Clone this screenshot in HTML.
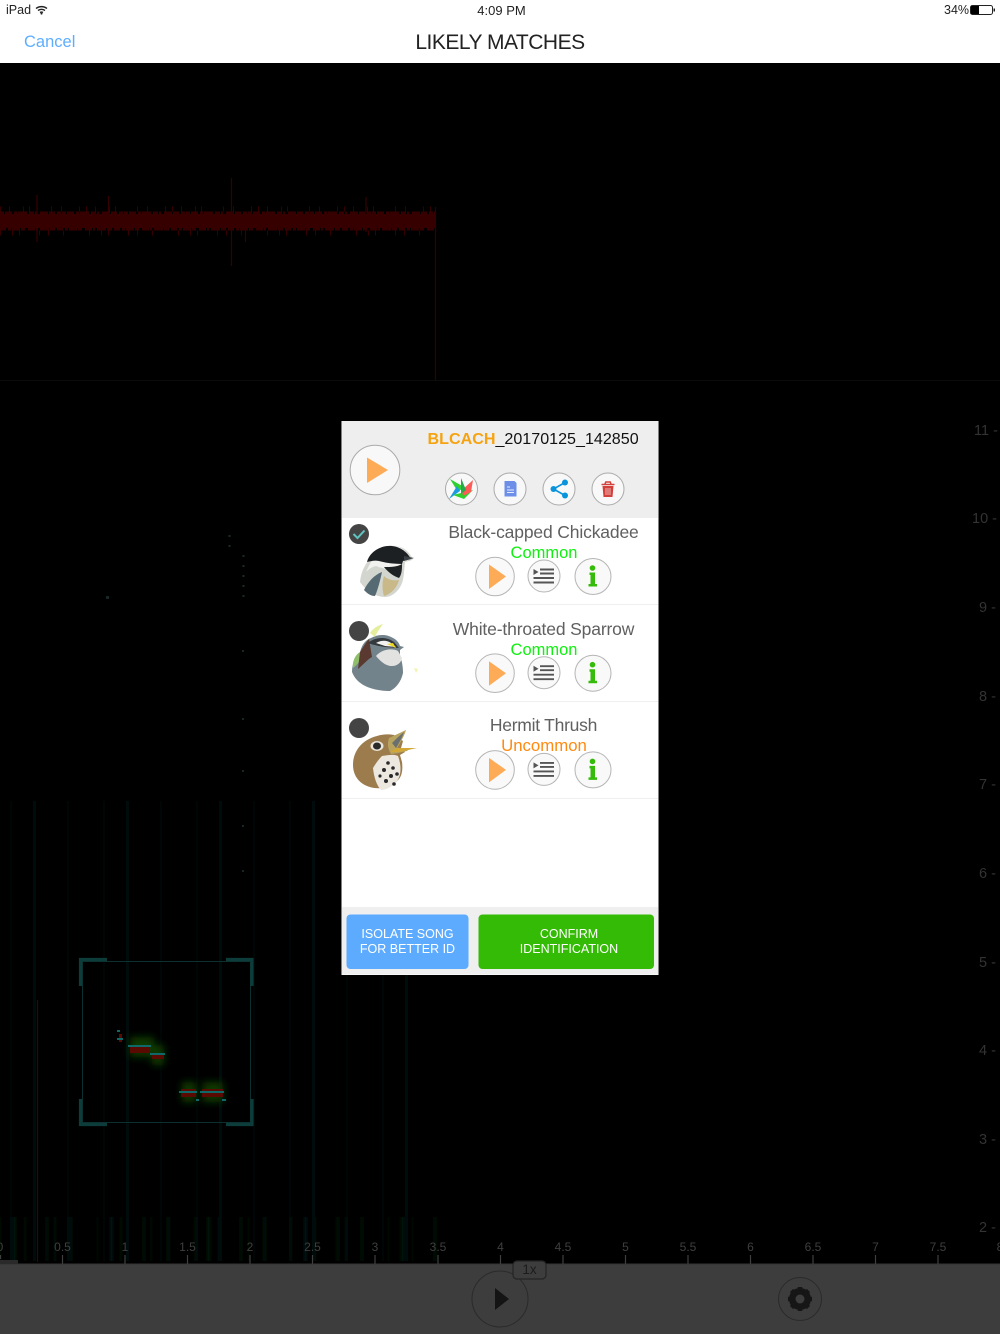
<!DOCTYPE html>
<html>
<head>
<meta charset="utf-8">
<style>
html,body{margin:0;padding:0;background:#000}
body{position:relative;width:1000px;height:1334px;overflow:hidden;font-family:"Liberation Sans",sans-serif}
.t{position:absolute;white-space:nowrap;line-height:1}
.c{transform:translateX(-50%)}
svg{position:absolute;left:0;top:0}
</style>
</head>
<body>
<div style="position:absolute;left:0;top:0;width:1000px;height:63px;background:#fff"></div>
<div class="t" style="left:6px;top:4px;font-size:12.5px;color:#222">iPad</div>
<div class="t c" style="left:501.5px;top:4px;font-size:13px;color:#222">4:09 PM</div>
<div class="t" style="left:944px;top:4px;font-size:12.5px;color:#222">34%</div>
<div class="t" style="left:24px;top:34px;font-size:16.5px;color:#5eaeff">Cancel</div>
<div class="t c" style="left:500px;top:32px;font-size:21px;letter-spacing:-.5px;color:#222">LIKELY MATCHES</div>

<svg width="1000" height="1334" viewBox="0 0 1000 1334">
<defs>
<filter id="b1" x="-5%" y="-5%" width="110%" height="110%"><feGaussianBlur stdDeviation="1.200 0"/></filter>
<filter id="b4"><feGaussianBlur stdDeviation="4"/></filter>
<g id="list"><path d="M-10.500 -7l5 3-5 3z" fill="#555"/><path d="M-4 -6.500h14M-4 -2.500h14M-10.500 2h20.500M-10.500 6.500h20.500" stroke="#555" stroke-width="1.900" fill="none"/></g>
</defs>

<!-- status icons -->
<path d="M36 8.500a9 9 0 0 1 11 0M38 10.500a6 6 0 0 1 7 0M40 12.500a3 3 0 0 1 3 0" stroke="#222" stroke-width="1.400" fill="none"/>
<circle cx="41.500" cy="13.600" r="1" fill="#222"/>
<rect x="970.500" y="5.500" width="22" height="9" rx="2" fill="#fff" stroke="#222"/>
<rect x="971" y="6" width="8" height="8" fill="#000"/>
<rect x="993.500" y="8.500" width="1.500" height="3" fill="#222"/>

<!-- waveform -->
<g fill="none" stroke="#360000">
<path d="M0 221H435" stroke-width="14"/>
<path d="M0 213H435" stroke-width="3" stroke-dasharray="4 1 7 2 3 1 9 2 5 1 2 3 8 1 6 2 4 1"/>
<path d="M0 229H435" stroke-width="3" stroke-dasharray="6 2 3 1 8 1 4 3 7 1 2 2 9 1 5 2"/>
<path d="M0 209H435" stroke-width="5" stroke-dasharray="1 8 1 13 1 5 1 21 1 9 1 17 1 6"/>
<path d="M0 233H435" stroke-width="5" stroke-dasharray="1 11 1 6 1 19 1 8 1 14 1 25"/>
<path d="M37 195V242M108.500 196V231M231.500 178V266M245.500 225V242M366 197V232M435.500 207V380" stroke-width="1.200"/>
</g>
<path d="M0 380.500H1000" stroke="#0b0b0b"/>

<!-- spectrogram streaks -->
<g fill="none" filter="url(#b1)">
<path d="M0 822H440" stroke="#000b0b" stroke-width="884" stroke-dasharray="1 9 2 14 1 6 3 19 1 11 2 7 1 16"/>
<path d="M0 1240H440" stroke="#001408" stroke-width="46" stroke-dasharray="1 12 3 8 1 21 2 6 1 15 2 25"/>
</g>
<path d="M37.500 1000V1262" stroke="#0d1a0a" stroke-width="1.200"/>
<path d="M243.500 555V600M229.500 535V555" stroke="#1b2a2a" stroke-width="2" stroke-dasharray="2 8"/>
<g fill="#182626"><rect x="106" y="596" width="3" height="3"/><rect x="242" y="650" width="2" height="2"/><rect x="242" y="718" width="2" height="2"/><rect x="242" y="770" width="2" height="2"/><rect x="242" y="825" width="2" height="2"/><rect x="242" y="870" width="2" height="2"/></g>

<!-- selection box -->
<rect x="82.500" y="961.500" width="168" height="161" fill="none" stroke="#0c3030" stroke-width="1"/>
<path d="M107 959.500H80.500V986M226 959.500H252V986M80.500 1099V1124.500H107M252 1099V1124.500H226" fill="none" stroke="#0d3d3b" stroke-width="3.200"/>
<g filter="url(#b4)" fill="#0c3a06">
<rect x="130" y="1037" width="24" height="20"/><rect x="152" y="1045" width="12" height="20"/>
<rect x="182" y="1082" width="14" height="20"/><rect x="203" y="1082" width="20" height="20"/>
</g>
<g fill="#5a0a00">
<rect x="130" y="1046" width="20" height="7"/><rect x="152" y="1054" width="12" height="5"/>
<rect x="181" y="1089" width="15" height="8"/><rect x="202" y="1089" width="21" height="8"/>
<rect x="119" y="1034" width="3" height="8"/>
</g>
<g fill="#0d6a68">
<rect x="128" y="1045" width="23" height="2"/><rect x="150" y="1053" width="15" height="2"/>
<rect x="179" y="1091" width="18" height="2"/><rect x="200" y="1091" width="24" height="2"/>
<rect x="117" y="1030" width="3" height="2"/><rect x="117" y="1038" width="6" height="2"/>
<rect x="196" y="1099" width="3" height="2"/><rect x="222" y="1099" width="4" height="2"/>
</g>

<!-- bottom bar -->
<rect x="0" y="1264" width="1000" height="70" fill="#3d3d3d"/>
<rect x="0" y="1263.500" width="1000" height="1" fill="#333"/>
<rect x="0" y="1260" width="18" height="4" fill="#2a2a2a"/>
<path d="M62.500 1255v9M125 1255v9M187.500 1255v9M250 1255v9M312.500 1255v9M375 1255v9M438 1255v9M500.500 1255v9M563 1255v9M625.500 1255v9M688 1255v9M750.500 1255v9M813 1255v9M875.500 1255v9M938 1255v9M0.500 1255v4" stroke="#3f3f3f" stroke-width="1.200"/>
<circle cx="500" cy="1299" r="28" fill="#3d3d3d" stroke="#2a2a2a" stroke-width="1"/>
<path d="M495 1288l14 11-14 11z" fill="#141414"/>
<rect x="513" y="1261" width="33" height="18" rx="4" fill="#3d3d3d" stroke="#242424" stroke-width="1.200"/>
<circle cx="800" cy="1299" r="21.500" fill="#3d3d3d" stroke="#2a2a2a"/>
<circle cx="800" cy="1299" r="8" fill="none" stroke="#161616" stroke-width="6"/>
<path d="M800 1287v24M788 1299h24M791.500 1290.500l17 17M808.500 1290.500l-17 17" stroke="#161616" stroke-width="4.500"/>
<circle cx="800" cy="1299" r="4.500" fill="#3d3d3d"/>

<!-- panel -->
<rect x="341.500" y="421" width="317" height="554" fill="#fff"/>
<rect x="342" y="421" width="316" height="97" fill="#efeeef"/>
<rect x="342" y="907" width="316" height="67.500" fill="#efefef"/>
<path d="M342 604.500H658M342 701.500H658M342 798.500H658" stroke="#efefef"/>
<rect x="346.500" y="914.500" width="122" height="54.500" rx="4" fill="#5dabff"/>
<rect x="478.500" y="914.500" width="175.500" height="54.500" rx="4" fill="#33bb05"/>

<!-- panel header icons -->
<circle cx="375" cy="470" r="24.800" fill="#f8f8f8" stroke="#aaa"/>
<path d="M367 457.500l21 12.500-21 13z" fill="#fdab57"/>
<g fill="#f8f8f8" stroke="#aaa"><circle cx="461.500" cy="489" r="16"/><circle cx="510" cy="489" r="16"/><circle cx="559" cy="489" r="16"/><circle cx="608" cy="489" r="16"/></g>
<path d="M450 479l14 8-6 5z" fill="#2fd02f"/><path d="M449 499l8-13 3 5z" fill="#1a9be0"/><path d="M453 495l20-5-9 9z" fill="#2fd02f"/>
<path d="M462 490l11-10-2 12-8 4z" fill="#ff5a55"/><path d="M461 478l5 12-5 4z" fill="#27a84a"/>
<path d="M504.500 481h10l2 2v13.500h-12z" fill="#6d8fe8"/>
<path d="M507 487h3M507 490h7M507 492.500h7" stroke="#e7ecff" stroke-width="1"/>
<path d="M565 482.500l-11.500 6.500 11.500 6.500" fill="none" stroke="#0a94dc" stroke-width="1.600"/>
<g fill="#0a94dc"><circle cx="565" cy="482.500" r="3"/><circle cx="553.500" cy="489" r="3"/><circle cx="565" cy="495.500" r="3"/></g>
<path d="M601.500 484.500h13M605 484l.8-2h4.400l.8 2" fill="none" stroke="#d2403c" stroke-width="1.500"/>
<path d="M602.500 486h11l-1 11h-9z" fill="#d2403c"/>
<path d="M606 488v7M608 488v7M610 488v7" stroke="#f4d0ce" stroke-width=".8"/>

<!-- row icons -->
<g id="r1">
<circle cx="495" cy="576.500" r="19.300" fill="#f9f9f9" stroke="#b5b5b5"/>
<path d="M489 564.500l17 12-17 12.500z" fill="#fdab57"/>
<circle cx="544" cy="576" r="16" fill="#f9f9f9" stroke="#b5b5b5"/>
<use href="#list" x="544" y="576"/>
<circle cx="593" cy="576.500" r="18" fill="#f9f9f9" stroke="#b5b5b5"/>
<circle cx="592.500" cy="568" r="2.800" fill="#35bb0a"/>
<path d="M589.500 572.500h5.500v11.500h2v2.500h-8.500V584h2v-9h-1z" fill="#35bb0a"/>
</g>
<use href="#r1" y="96.700"/>
<use href="#r1" y="193.400"/>

<!-- check circles -->
<circle cx="359" cy="534" r="10" fill="#444"/>
<path d="M353.500 534l4 4 7-7.500" fill="none" stroke="#5fc4c0" stroke-width="2"/>
<circle cx="359" cy="631" r="10" fill="#444"/>
<circle cx="359" cy="728" r="10" fill="#444"/>

<!-- chickadee -->
<path d="M360 582c1-10 5-18 10-23 5-9 14-14 26-13 7 1 12 5 15 10l2 3c-2 2-5 2-8 3-1 8-1 16-3 21-3 8-10 14-17 14-9 0-19-6-25-15z" fill="#d3d5cf"/>
<path d="M366 572c6-14 12-20 18-24 7-3 15-3 20 2l7 9-9 3c-1 6-1 9-2 13-5-6-14-5-24-9-4 1-7 3-10 6z" fill="#f1f1ef"/>
<path d="M367 562c2-9 12-17 25-16 9 1 15 6 19 13l-8 2-1 3c-8 0-16-1-23-3-4-1-8 0-12 1z" fill="#1d2022"/>
<path d="M384 567c7 0 13 0 18-3 0 5 0 10-3 14-6-2-11-6-15-11z" fill="#1f2224"/>
<path d="M404 556l10 2-10 3z" fill="#3a3f44"/>
<path d="M364 590c4-8 10-15 18-18-2 9-4 17-7 24-5 0-8-3-11-6z" fill="#556a72"/>
<path d="M384 576c4 4 10 5 15 4-2 8-8 14-15 16-2-6-2-14 0-20z" fill="#c9b888"/>
<!-- sparrow -->
<path d="M352 672c0-8 3-15 8-19 1-7 5-13 11-15 7-4 16-4 22 0 4 2 6 5 7 8l4 1-4 3 0 6c2 5 3 11 3 17-2 9-7 15-13 18-12 0-32-3-38-19z" fill="#73838c"/>
<path d="M353 668c-1-6 2-13 7-16l2 6c-3 4-5 7-9 10z" fill="#8fbf6a"/>
<path d="M360 652c4-6 6-10 9-13l3 18c-4 2-8 7-14 12z" fill="#5a3a30"/>
<path d="M376 656c6-7 16-8 22-5l4 7c-1 5-5 8-10 8-6 0-11-4-16-10z" fill="#e2e3e0"/>
<path d="M368 643c7-6 18-7 26-1l5 6-14-1c-6-1-12-2-17-4z" fill="#32383c"/>
<path d="M376 643c5-3 11-3 15 0l5 4-11-1z" fill="#f1f1ef"/>
<path d="M387 644l6-1 3 5z" fill="#f0d820"/>
<path d="M370 633c2-3 6-7 13-9-3 4-6 8-8 13z" fill="#e4ee9c"/>
<path d="M414 668l4 1-2 4z" fill="#f2f4b0"/>
<!-- thrush -->
<path d="M353 765c0-13 8-25 24-29 6-2 12-2 17-1l9 6-2 7 4 4-5 3 2 7c1 8 0 15-5 19-3 4-8 7-14 7-16 2-30-7-30-23z" fill="#9c7c4c"/>
<path d="M389 738l17-8c-2 7-6 13-10 20l13-1-2 2c-5 1-12 3-16 3-3-5-4-10-2-16z" fill="#b9a45f"/>
<path d="M392 743c3-3 7-7 12-11-2 6-5 11-8 16z" fill="#6a6f70"/>
<path d="M390 752l7-4 20 0-18 4z" fill="#d3a735"/>
<ellipse cx="377" cy="746" rx="6.500" ry="5" fill="#e8e5da"/>
<ellipse cx="377" cy="746" rx="4" ry="3.500" fill="#2a2a28"/>
<path d="M382 756c6-1 12-2 16 0 3 8 4 18-1 25-4 5-10 9-16 9-4-4-7-12-8-22 3-5 6-9 9-12z" fill="#ece8e0"/>
<g fill="#2a2a2c"><circle cx="388" cy="763" r="1.800"/><circle cx="393" cy="768" r="1.800"/><circle cx="384" cy="770" r="2"/><circle cx="391" cy="776" r="2"/><circle cx="397" cy="774" r="1.800"/><circle cx="386" cy="781" r="2"/><circle cx="394" cy="784" r="1.800"/><circle cx="380" cy="776" r="1.600"/></g>
</svg>

<!-- panel text -->
<div class="t" style="left:427.500px;top:431px;font-size:16.100px;color:#111"><span style="color:#f5a311;font-weight:bold">BLCACH</span>_20170125_142850</div>
<div class="t c" style="left:543.500px;top:524px;font-size:17.500px;color:#606060;letter-spacing:-.15px">Black-capped Chickadee</div>
<div class="t c" style="left:544px;top:545px;font-size:16.500px;color:#10f010">Common</div>
<div class="t c" style="left:543.500px;top:621px;font-size:17.500px;color:#606060;letter-spacing:-.15px">White-throated Sparrow</div>
<div class="t c" style="left:544px;top:642px;font-size:16.500px;color:#10f010">Common</div>
<div class="t c" style="left:543.500px;top:717px;font-size:17.500px;color:#606060;letter-spacing:-.25px">Hermit Thrush</div>
<div class="t c" style="left:544px;top:738px;font-size:16.800px;color:#ff8a10">Uncommon</div>
<div class="t c" style="left:407.500px;top:927px;font-size:12.500px;line-height:15px;color:#fff;text-align:center">ISOLATE SONG<br>FOR BETTER ID</div>
<div class="t c" style="left:569px;top:927px;font-size:12.500px;line-height:15px;color:#fff;text-align:center">CONFIRM<br>IDENTIFICATION</div>

<!-- y axis -->
<div style="color:#333;font-size:14.500px">
<div class="t" style="left:974px;top:424px">11 -</div>
<div class="t" style="left:972px;top:512px">10 -</div>
<div class="t" style="left:979px;top:601px">9 -</div>
<div class="t" style="left:979px;top:690px">8 -</div>
<div class="t" style="left:979px;top:778px">7 -</div>
<div class="t" style="left:979px;top:867px">6 -</div>
<div class="t" style="left:979px;top:956px">5 -</div>
<div class="t" style="left:979px;top:1044px">4 -</div>
<div class="t" style="left:979px;top:1133px">3 -</div>
<div class="t" style="left:979px;top:1221px">2 -</div>
</div>

<!-- x axis -->
<div style="color:#3f3f3f;font-size:12px">
<div class="t c" style="left:0;top:1241px">0</div>
<div class="t c" style="left:62.500px;top:1241px">0.5</div>
<div class="t c" style="left:125px;top:1241px">1</div>
<div class="t c" style="left:187.500px;top:1241px">1.5</div>
<div class="t c" style="left:250px;top:1241px">2</div>
<div class="t c" style="left:312.500px;top:1241px">2.5</div>
<div class="t c" style="left:375px;top:1241px">3</div>
<div class="t c" style="left:438px;top:1241px">3.5</div>
<div class="t c" style="left:500.500px;top:1241px">4</div>
<div class="t c" style="left:563px;top:1241px">4.5</div>
<div class="t c" style="left:625.500px;top:1241px">5</div>
<div class="t c" style="left:688px;top:1241px">5.5</div>
<div class="t c" style="left:750.500px;top:1241px">6</div>
<div class="t c" style="left:813px;top:1241px">6.5</div>
<div class="t c" style="left:875.500px;top:1241px">7</div>
<div class="t c" style="left:938px;top:1241px">7.5</div>
<div class="t c" style="left:1000px;top:1241px">8</div>
</div>
<div class="t c" style="left:529.500px;top:1263px;font-size:13.500px;color:#1c1c1c">1x</div>
</body>
</html>
